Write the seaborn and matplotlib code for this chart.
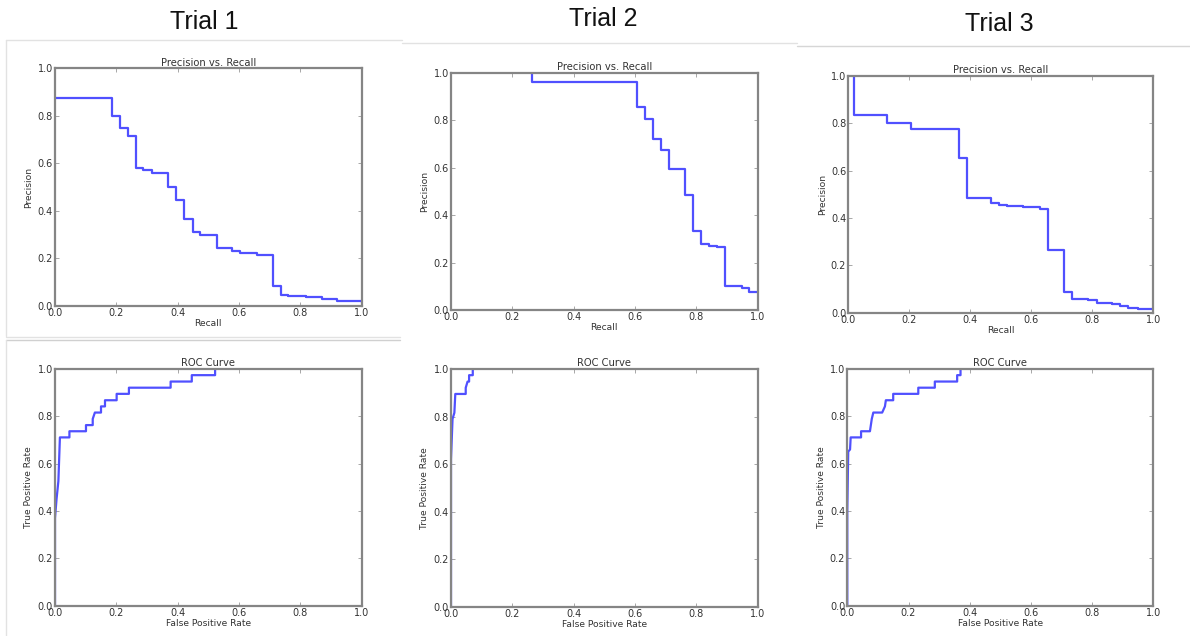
import numpy as np
import pandas as pd
import matplotlib
matplotlib.use("Agg")
import matplotlib.pyplot as plt
from matplotlib.lines import Line2D
import seaborn as sns

# ---------------- data ----------------
trials = ["Trial 1", "Trial 2", "Trial 3"]

recall1 = [0.0, 0.185, 0.212, 0.239, 0.264, 0.288, 0.315, 0.367, 0.395, 0.422, 0.449,
           0.473, 0.527, 0.576, 0.603, 0.658, 0.712, 0.737, 0.761, 0.82, 0.87, 0.918, 1.0]
precision1 = [0.875, 0.80, 0.75, 0.714, 0.58, 0.571, 0.56, 0.50, 0.444, 0.364, 0.31,
              0.296, 0.241, 0.23, 0.22, 0.213, 0.085, 0.045, 0.04, 0.035, 0.03, 0.018, 0.013]

recall2 = [0.263, 0.263, 0.605, 0.633, 0.658, 0.684, 0.710, 0.763, 0.788, 0.815, 0.842,
           0.866, 0.893, 0.948, 0.972, 1.0]
precision2 = [1.0, 0.96, 0.857, 0.806, 0.722, 0.676, 0.594, 0.485, 0.331, 0.277, 0.271,
              0.265, 0.103, 0.091, 0.077, 0.077]

recall3 = [0.020, 0.020, 0.126, 0.205, 0.364, 0.390, 0.468, 0.494, 0.521, 0.574, 0.628,
           0.656, 0.708, 0.734, 0.787, 0.814, 0.863, 0.891, 0.918, 0.951, 1.0]
precision3 = [1.0, 0.835, 0.80, 0.777, 0.652, 0.486, 0.465, 0.455, 0.45, 0.445, 0.439,
              0.265, 0.089, 0.056, 0.052, 0.042, 0.037, 0.028, 0.02, 0.016, 0.016]

fpr1 = [0.0, 0.0, 0.005, 0.011, 0.016, 0.047, 0.047, 0.101, 0.101, 0.123, 0.123, 0.130,
        0.150, 0.150, 0.163, 0.163, 0.201, 0.201, 0.241, 0.241, 0.377, 0.377, 0.446,
        0.446, 0.522, 0.522]
tpr1 = [0.0, 0.37, 0.45, 0.526, 0.711, 0.711, 0.737, 0.737, 0.763, 0.763, 0.789, 0.816,
        0.816, 0.842, 0.842, 0.868, 0.868, 0.895, 0.895, 0.921, 0.921, 0.947, 0.947,
        0.974, 0.974, 1.0]

fpr2 = [0.0, 0.0, 0.005, 0.011, 0.014, 0.048, 0.048, 0.054, 0.059, 0.059, 0.071, 0.071]
tpr2 = [0.0, 0.62, 0.79, 0.816, 0.895, 0.895, 0.921, 0.947, 0.947, 0.974, 0.974, 1.0]

fpr3 = [0.0, 0.0, 0.003, 0.009, 0.011, 0.045, 0.045, 0.074, 0.080, 0.085, 0.114, 0.123,
        0.126, 0.150, 0.150, 0.232, 0.232, 0.286, 0.286, 0.359, 0.359, 0.370, 0.370]
tpr3 = [0.0, 0.40, 0.651, 0.66, 0.711, 0.711, 0.737, 0.737, 0.789, 0.816, 0.816, 0.842,
        0.868, 0.868, 0.895, 0.895, 0.921, 0.921, 0.947, 0.947, 0.974, 0.974, 1.0]

tick_values = [0.0, 0.2, 0.4, 0.6, 0.8, 1.0]
tick_labels = ["0.0", "0.2", "0.4", "0.6", "0.8", "1.0"]

# ---------------- style ----------------
sns.set_theme(style="white")
plt.rcParams["font.family"] = ["DejaVu Sans"]

W, H = 1190, 636
fig = plt.figure(figsize=(W / 100, H / 100), dpi=100)
fig.patch.set_facecolor("white")

LINE_COLOR = "#5050ff"
FRAME_COLOR = "#858585"
TEXT_COLOR = "#333333"


def px_axes(x0, y0, x1, y1):
    return fig.add_axes([x0 / W, (H - y1) / H, (x1 - x0) / W, (y1 - y0) / H])


def style_axes(ax, title, xlabel, ylabel):
    ax.set_xlim(0, 1)
    ax.set_ylim(0, 1)
    ax.set_xticks(tick_values)
    ax.set_yticks(tick_values)
    ax.set_xticklabels(tick_labels)
    ax.set_yticklabels(tick_labels)
    ax.tick_params(direction="in", length=3, width=0.6, color="#999999",
                   top=True, right=True, bottom=True, left=True,
                   labelsize=7, labelcolor=TEXT_COLOR, pad=1.5)
    for s in ax.spines.values():
        s.set_visible(True)
        s.set_color(FRAME_COLOR)
        s.set_linewidth(1.6)
    ax.set_title(title, fontsize=7.2, color=TEXT_COLOR, pad=2)
    ax.set_xlabel(xlabel, fontsize=6.6, color=TEXT_COLOR, labelpad=1)
    ax.set_ylabel(ylabel, fontsize=6.6, color=TEXT_COLOR, labelpad=3)
    if ax.get_legend() is not None:
        ax.get_legend().remove()


pr_data = [(recall1, precision1), (recall2, precision2), (recall3, precision3)]
roc_data = [(fpr1, tpr1), (fpr2, tpr2), (fpr3, tpr3)]

top_boxes = [(55, 68.3, 361.7, 305.7), (451, 72.7, 757.7, 310), (848.3, 76, 1153.3, 312.7)]
bot_boxes = [(55, 369, 361.7, 605.7), (451, 369, 757.7, 606.7), (847.3, 369, 1153.3, 605.7)]

for i in range(3):
    r, p = pr_data[i]
    ax = px_axes(*top_boxes[i])
    df = pd.DataFrame({"Recall": r, "Precision": p})
    sns.lineplot(data=df, x="Recall", y="Precision", ax=ax, sort=False, estimator=None,
                 drawstyle="steps-post", color=LINE_COLOR, linewidth=1.6)
    style_axes(ax, "Precision vs. Recall", "Recall", "Precision")

    f, t = roc_data[i]
    ax2 = px_axes(*bot_boxes[i])
    df2 = pd.DataFrame({"fpr": f, "tpr": t})
    sns.lineplot(data=df2, x="fpr", y="tpr", ax=ax2, sort=False, estimator=None,
                 color=LINE_COLOR, linewidth=1.6)
    style_axes(ax2, "ROC Curve", "False Positive Rate", "True Positive Rate")

# Trial headers
header_pos = [(204, 29), (603, 26), (999, 31)]
for name, (hx, hy) in zip(trials, header_pos):
    fig.text(hx / W, (H - hy) / H, name, ha="center", va="baseline",
             fontsize=18, family=["Liberation Sans", "DejaVu Sans"], color="#111111")

# faint screenshot borders
def hline(x0, x1, y, c="#e2e2e2"):
    fig.add_artist(Line2D([x0 / W, x1 / W], [(H - y) / H] * 2, color=c, lw=1.0,
                          transform=fig.transFigure))

def vline(x, y0, y1, c="#e2e2e2"):
    fig.add_artist(Line2D([x / W] * 2, [(H - y0) / H, (H - y1) / H], color=c, lw=1.0,
                          transform=fig.transFigure))

hline(6, 402, 39.5)
hline(402, 797, 42.5)
hline(797, 1190, 45.5, c="#d6d6d6")
vline(6, 39.5, 336)
hline(6, 400, 336.5)
hline(6, 400, 339.5, c="#d0d0d0")
vline(6, 339.5, 636)

fig.savefig("out.png", dpi=100, facecolor="white")
